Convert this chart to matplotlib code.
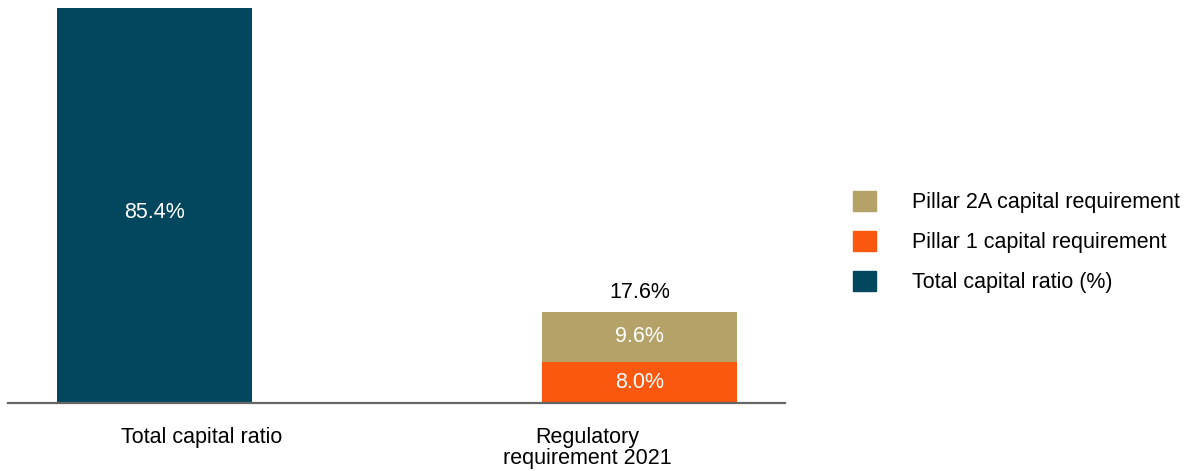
import matplotlib
matplotlib.use('Agg')
import matplotlib.pyplot as plt
from matplotlib.patches import Patch

plt.rcParams['font.family'] = ['Liberation Sans', 'DejaVu Sans']

categories = ['Total capital ratio', 'Regulatory\nrequirement 2021']
total_ratio = [85.4, 0]
pillar1 = [0, 8.0]
pillar2a = [0, 9.6]

c_total = '#03475E'
c_p1 = '#FA570F'
c_p2a = '#B4A269'

FS = 15.5


def main():
    fig = plt.figure(figsize=(11.87, 4.71), dpi=100)
    ax = fig.add_axes([8 / 1187, 68 / 471, 777 / 1187, 395 / 471])

    x = [0, 1]
    w = 0.402
    ax.bar(x, total_ratio, width=w, color=c_total)
    ax.bar(x, pillar1, width=w, color=c_p1)
    ax.bar(x, pillar2a, width=w, bottom=pillar1, color=c_p2a)

    ymax = 76.4  # tall bar is cut off at the top of the plot area
    ax.set_xlim(-0.302, 1.3)
    ax.set_ylim(0, ymax)

    # labels inside bars
    ax.text(0, min(total_ratio[0], ymax) * 0.483, '%.1f%%' % total_ratio[0], ha='center',
            va='center', color='white', fontsize=FS)
    ax.text(1, pillar1[1] / 2, '%.1f%%' % pillar1[1], ha='center', va='center',
            color='white', fontsize=FS)
    ax.text(1, pillar1[1] + pillar2a[1] / 2, '%.1f%%' % pillar2a[1], ha='center', va='center',
            color='white', fontsize=FS)
    top = pillar1[1] + pillar2a[1]
    ax.text(1, top + 3.7, '%.1f%%' % top, ha='center', va='center',
            color='black', fontsize=FS)

    for s in ['top', 'right', 'left']:
        ax.spines[s].set_visible(False)
    ax.spines['bottom'].set_color('#666666')
    ax.spines['bottom'].set_linewidth(1.6)
    ax.set_yticks([])
    # category labels sit off-centre from the bars in the original
    ax.set_xticks([0.098, 0.892])
    ax.set_xticklabels(categories, fontsize=FS, linespacing=1.05)
    ax.tick_params(axis='x', length=0, pad=17)

    handles = [Patch(color=c_p2a), Patch(color=c_p1), Patch(color=c_total)]
    labels = ['Pillar 2A capital requirement', 'Pillar 1 capital requirement',
              'Total capital ratio (%)']
    fig.legend(handles, labels, loc='center left', bbox_to_anchor=(853 / 1187, 1 - 242 / 471),
               frameon=False, fontsize=FS, handlelength=1.06, handleheight=1.06,
               handletextpad=1.7, labelspacing=0.82, borderpad=0, borderaxespad=0)

    fig.savefig('out.png', dpi=100)


if __name__ == '__main__':
    main()
